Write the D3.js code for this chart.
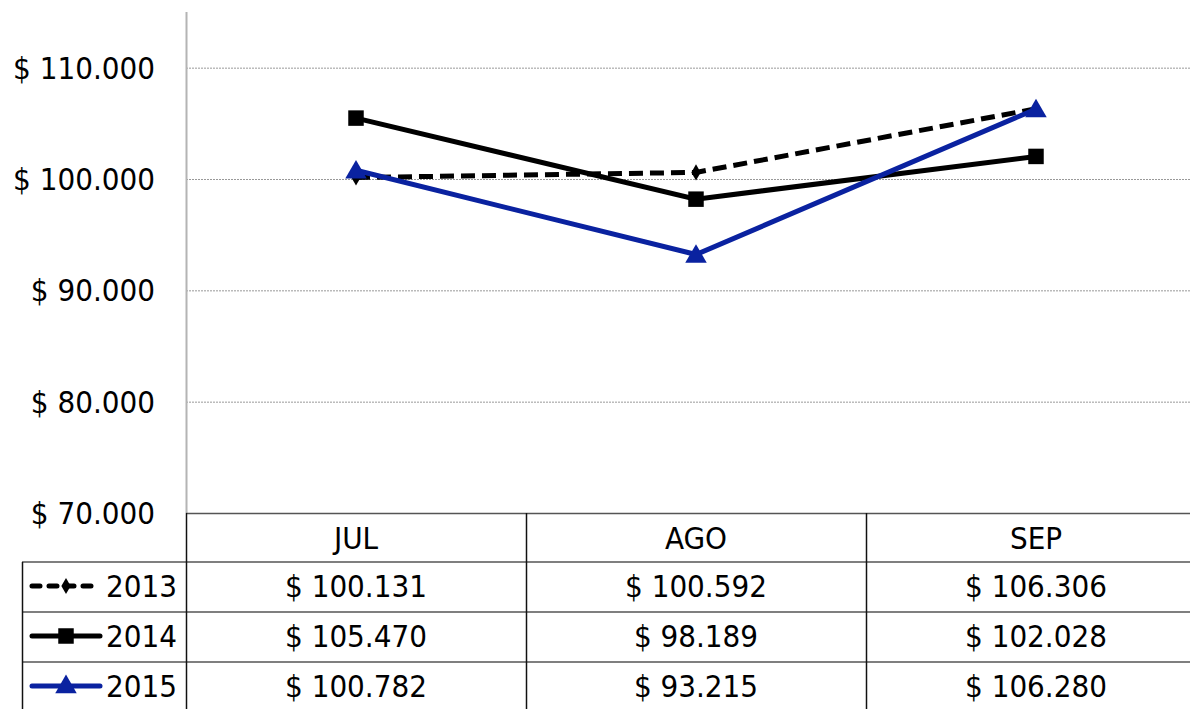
<!DOCTYPE html>
<html>
<head>
<meta charset="utf-8">
<script src="https://cdn.jsdelivr.net/npm/d3@7"></script>
<style>
  body { margin: 0; background: #fff; }
  text { font-family: "DejaVu Sans Condensed", "DejaVu Sans", sans-serif; font-stretch: condensed; fill: #000; }
</style>
</head>
<body>
<svg class="chart"></svg>
<script>
var months = ["JUL", "AGO", "SEP"];
var years = ["2013", "2014", "2015"];
var v2013 = [100131, 100592, 106306];
var v2014 = [105470, 98189, 102028];
var v2015 = [100782, 93215, 106280];
var yTicks = [70000, 80000, 90000, 100000, 110000];

var width = 1190,
  height = 709,
  plotLeft = 186,
  plotTop = 12,
  plotBottom = 513,
  colWidth = 340,
  rowHeight = 50,
  legendLeft = 22,
  fontSize = 31;

var series = [
  { name: years[0], values: v2013, color: "#000", dash: "14,7", marker: "diamond" },
  { name: years[1], values: v2014, color: "#000", dash: null, marker: "square" },
  { name: years[2], values: v2015, color: "#0a22a0", dash: null, marker: "triangle" }
];

var x = d3.scaleBand()
  .domain(months)
  .range([plotLeft, plotLeft + colWidth * months.length]);

var y = d3.scaleLinear()
  .domain([70000, 115000])
  .range([plotBottom, plotTop]);

var fmt = function(v) {
  return "$ " + d3.format(",")(v).replace(/,/g, ".");
};

var chart = d3.select(".chart").attr("width", width).attr("height", height);

// gridlines
chart.append("g")
  .selectAll("line")
  .data(yTicks.slice(1))
  .enter()
  .append("line")
  .attr("x1", plotLeft)
  .attr("x2", width)
  .attr("y1", function(d) { return y(d) + 0.5; })
  .attr("y2", function(d) { return y(d) + 0.5; })
  .attr("stroke", "#999")
  .attr("stroke-width", 1)
  .attr("stroke-dasharray", "2,1");

// y axis labels
chart.append("g")
  .selectAll("text")
  .data(yTicks)
  .enter()
  .append("text")
  .attr("x", 155)
  .attr("y", function(d) { return y(d); })
  .attr("dy", "0.36em")
  .attr("text-anchor", "end")
  .attr("font-size", fontSize)
  .text(fmt);

// y axis line
chart.append("line")
  .attr("x1", plotLeft + 0.5)
  .attr("x2", plotLeft + 0.5)
  .attr("y1", plotTop)
  .attr("y2", plotBottom)
  .attr("stroke", "#b4b4b4")
  .attr("stroke-width", 2);

// data table
var table = chart.append("g");
var tableRight = plotLeft + colWidth * months.length;

table.append("line")
  .attr("x1", plotLeft).attr("x2", tableRight)
  .attr("y1", plotBottom + 0.5).attr("y2", plotBottom + 0.5)
  .attr("stroke", "#555").attr("stroke-width", 1.5);

table.selectAll(".hrow")
  .data(years)
  .enter()
  .append("line")
  .attr("class", "hrow")
  .attr("x1", legendLeft).attr("x2", tableRight)
  .attr("y1", function(d, i) { return plotBottom + rowHeight * (i + 1) - 1; })
  .attr("y2", function(d, i) { return plotBottom + rowHeight * (i + 1) - 1; })
  .attr("stroke", "#555").attr("stroke-width", 1.5);

table.selectAll(".vcol")
  .data(months.concat(["end"]))
  .enter()
  .append("line")
  .attr("class", "vcol")
  .attr("x1", function(d, i) { return plotLeft + colWidth * i + 0.5; })
  .attr("x2", function(d, i) { return plotLeft + colWidth * i + 0.5; })
  .attr("y1", plotBottom)
  .attr("y2", height)
  .attr("stroke", "#111").attr("stroke-width", 1.5);

table.append("line")
  .attr("x1", legendLeft + 0.5).attr("x2", legendLeft + 0.5)
  .attr("y1", plotBottom + rowHeight - 1).attr("y2", height)
  .attr("stroke", "#111").attr("stroke-width", 1.5);

table.selectAll(".head")
  .data(months)
  .enter()
  .append("text")
  .attr("class", "head")
  .attr("x", function(d) { return x(d) + x.bandwidth() / 2; })
  .attr("y", plotBottom + rowHeight / 2)
  .attr("dy", "0.36em")
  .attr("text-anchor", "middle")
  .attr("font-size", fontSize)
  .text(function(d) { return d; });

var markerPath = function(type, size) {
  if (type === "diamond") return d3.symbol(d3.symbolDiamond, size)();
  if (type === "square") return d3.symbol(d3.symbolSquare, size)();
  return d3.symbol(d3.symbolTriangle, size)();
};
var markerSize = { diamond: 75, square: 240, triangle: 200 };

var rows = table.selectAll(".row")
  .data(series)
  .enter()
  .append("g")
  .attr("class", "row")
  .attr("transform", function(d, i) {
    return "translate(0," + (plotBottom + rowHeight * (i + 1) + rowHeight / 2 - 2) + ")";
  });

rows.selectAll("text.val")
  .data(function(d) { return d.values; })
  .enter()
  .append("text")
  .attr("class", "val")
  .attr("x", function(d, i) { return x(months[i]) + x.bandwidth() / 2; })
  .attr("dy", "0.36em")
  .attr("text-anchor", "middle")
  .attr("font-size", fontSize)
  .text(fmt);

// legend keys
rows.append("line")
  .attr("x1", 32).attr("x2", 100)
  .attr("y1", 0).attr("y2", 0)
  .attr("stroke", function(d) { return d.color; })
  .attr("stroke-width", 5)
  .attr("stroke-linecap", "round")
  .attr("stroke-dasharray", function(d) { return d.dash ? "8,9" : null; });

rows.append("path")
  .attr("transform", function(d) { return "translate(66," + (d.marker === "triangle" ? 1 : 0) + ")"; })
  .attr("d", function(d) { return markerPath(d.marker, markerSize[d.marker]); })
  .attr("fill", function(d) { return d.color; });

rows.append("text")
  .attr("x", 106)
  .attr("dy", "0.36em")
  .attr("font-size", fontSize)
  .text(function(d) { return d.name; });

// lines
var line = d3.line()
  .x(function(d, i) { return x(months[i]) + x.bandwidth() / 2; })
  .y(function(d) { return y(d); });

var lines = chart.selectAll(".series")
  .data(series)
  .enter()
  .append("g")
  .attr("class", "series");

lines.append("path")
  .attr("d", function(d) { return line(d.values); })
  .attr("fill", "none")
  .attr("stroke", function(d) { return d.color; })
  .attr("stroke-width", 5)
  .attr("stroke-dasharray", function(d) { return d.dash; });

lines.selectAll("path.mk")
  .data(function(d) {
    return d.values.map(function(v, i) { return { v: v, i: i, s: d }; });
  })
  .enter()
  .append("path")
  .attr("class", "mk")
  .attr("transform", function(d) {
    var dy = d.s.marker === "triangle" ? 2 : 0;
    return "translate(" + (x(months[d.i]) + x.bandwidth() / 2) + "," + (y(d.v) + dy) + ")";
  })
  .attr("d", function(d) { return markerPath(d.s.marker, markerSize[d.s.marker]); })
  .attr("fill", function(d) { return d.s.color; });
</script>
</body>
</html>
